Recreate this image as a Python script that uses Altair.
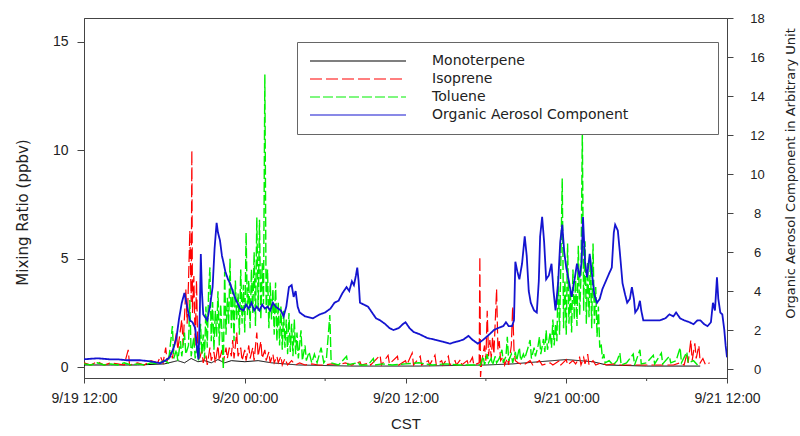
import altair as alt
import pandas as pd

# ---------------- data (hours after 9/19 12:00 CST) ----------------
x_tick_hours = [0, 12, 24, 36, 48]
x_tick_labels = ["9/19 12:00", "9/20 00:00", "9/20 12:00", "9/21 00:00", "9/21 12:00"]
minor_tick_hours = [6, 18, 30, 42]
left_ticks = [0, 5, 10, 15]
right_ticks = [0, 2, 4, 6, 8, 10, 12, 14, 16, 18]

series_names = ["Monoterpene", "Isoprene", "Toluene", "Organic Aerosol Component"]
series_colors = ["#000000", "#ff0000", "#00f000", "#1414d0"]
series_dashes = [[1, 0], [12, 4], [10, 3], [1, 0]]

mono_hours = [0, 2, 4, 6, 7, 7.5, 8, 8.5, 9, 9.5, 10, 10.5, 11, 12, 13, 14, 15, 16, 20, 25,
              30, 32, 33, 34, 35, 36, 37, 38, 39, 42, 46]
mono_values = [0.1, 0.1, 0.1, 0.15, 0.3, 0.2, 0.4, 0.25, 0.3, 0.2, 0.35, 0.2, 0.3, 0.25, 0.3, 0.2, 0.15, 0.1, 0.05, 0.05,
               0.1, 0.15, 0.2, 0.25, 0.3, 0.35, 0.3, 0.25, 0.1, 0.05, 0.05]

iso_hours = [0, 0.5, 1, 1.5, 2, 2.5, 3.0, 3.3, 3.4, 4, 4.5, 5.0, 5.5, 5.7, 5.9, 6.1, 6.2, 6.5, 6.6, 6.9,
             7.0, 7.3, 7.4, 7.6, 7.7, 7.8, 7.9, 8.0, 8.05, 8.1, 8.2, 8.3, 8.4, 8.5, 8.6,
             8.8, 8.9, 9.1, 9.2, 9.4, 9.5, 9.7, 9.8, 10.0, 10.1, 10.3, 10.4, 10.6, 10.7, 10.85,
             11.0, 11.1, 11.2, 11.4, 11.5, 11.7, 11.8, 12.0, 12.1, 12.3, 12.4, 12.6, 12.7, 12.9, 13.0,
             13.2, 13.3, 13.5, 13.6, 13.8, 13.9, 14.1, 14.2, 14.4, 14.5, 14.7, 14.8, 15.0, 15.2, 15.5,
             15.8, 16.1, 16.5, 17, 17.5, 18, 18.5, 19, 19.5,
             20.0, 20.6, 20.7, 21.3, 21.4, 22.1, 22.2, 22.7, 22.8, 23.4, 23.5, 24.0, 24.1, 24.5, 24.6,
             25.1, 25.2, 25.7, 25.8, 26.2, 26.3, 26.7, 26.8, 27.2, 27.3, 27.7, 27.8, 28.1, 28.2, 28.6,
             28.7, 29.0, 29.1, 29.5, 29.55, 29.6, 29.7,
             29.9, 30.0, 30.1, 30.2, 30.3, 30.4, 30.5, 30.6, 30.8, 30.9, 31.0, 31.1, 31.3, 31.4, 31.6,
             31.7, 31.9, 32.0, 32.1, 32.2, 32.4,
             32.8, 33.3, 33.5, 34.0, 34.2, 34.8, 35.0, 35.5, 35.6, 36.0, 36.1, 36.5, 36.7, 37.0, 37.1,
             37.3, 37.4, 37.6, 37.7, 38.0, 38.2, 38.6, 39, 39.5, 40, 41, 42, 43, 44, 44.5, 44.8,
             45.0, 45.1, 45.3, 45.4, 45.6, 45.7, 45.9, 46.0, 46.2, 46.4, 46.7]
iso_values = [0.2, 0.1, 0.25, 0.1, 0.2, 0.15, 0.1, 0.8, 0.1, 0.2, 0.1, 0.3, 0.2, 0.5, 0.2, 0.9, 0.3, 0.7, 0.4, 1.6,
              0.8, 2.2, 1.0, 3.6, 2.0, 3.9, 6.3, 3.0, 10.0, 2.5, 4.2, 1.0, 4.0, 0.6, 0.3,
              0.8, 0.2, 0.6, 0.1, 0.9, 0.3, 0.7, 0.2, 1.0, 0.3, 0.8, 0.2, 0.9, 0.4, 0.9,
              0.5, 1.25, 0.4, 1.6, 0.5, 0.9, 0.3, 0.8, 0.3, 1.0, 0.4, 0.9, 0.3, 1.6, 0.5,
              1.2, 0.4, 0.8, 0.3, 0.7, 0.2, 0.6, 0.2, 0.5, 0.2, 0.5, 0.1, 0.4, 0.1, 0.3,
              0.1, 0.2, 0.1, 0.15, 0.1, 0.1, 0.15, 0.1, 0.2,
              0.1, 0.25, 0.1, 0.2, 0.1, 0.55, 0.1, 0.55, 0.15, 0.5, 0.1, 0.3, 0.1, 0.65, 0.1,
              0.5, 0.1, 0.3, 0.1, 0.55, 0.1, 0.3, 0.1, 0.5, 0.1, 0.3, 0.1, 0.35, 0.1, 0.3,
              0.1, 0.45, 0.1, 0.2, 5.1, -0.45, 0.3,
              1.0, 0.3, 2.6, 0.5, 1.25, 0.4, 1.4, 0.6, 3.6, 0.8, 1.2, 0.3, 0.5, 0.1, 0.4,
              0.1, 1.0, 2.8, 0.8, 0.3, 0.2,
              0.1, 0.3, 0.1, 0.3, 0.1, 0.2, 0.1, 0.3, 0.1, 0.35, 0.1, 0.3, 0.15, 0.45, 0.1,
              0.45, 0.15, 0.6, 0.1, 0.3, 0.1, 0.2, 0.1, 0.15, 0.1, 0.1, 0.1, 0.1, 0.1, 0.2, 0.1,
              0.6, 0.2, 1.25, 0.3, 1.1, 0.4, 1.0, 0.2, 0.4, 0.1, 0.2]

tol_hours = [0, 0.5, 1, 1.5, 2, 2.5, 3, 3.5, 4, 4.5, 5, 5.5, 6, 6.3,
             6.6, 6.7, 6.9, 7.0, 7.2, 7.3, 7.5, 7.6, 7.8, 7.9, 8.0, 8.2, 8.3, 8.45, 8.55,
             8.6, 8.7, 8.8, 8.9, 9.0, 9.1, 9.2, 9.3, 9.4, 9.5, 9.6, 9.7, 9.8, 9.9,
             10.0, 10.1, 10.2, 10.3, 10.4, 10.5, 10.6, 10.7, 10.8, 10.9,
             11.0, 11.1, 11.2, 11.3, 11.4, 11.5, 11.6, 11.7, 11.8, 11.9,
             12.0, 12.1, 12.2, 12.3, 12.4, 12.5, 12.6, 12.7, 12.8, 12.9,
             13.0, 13.1, 13.2, 13.3, 13.4, 13.5, 13.6, 13.7, 13.8, 13.9,
             14.0, 14.1, 14.2, 14.3, 14.4, 14.5, 14.6, 14.7, 14.8, 14.9,
             15.0, 15.1, 15.2, 15.3, 15.4, 15.5, 15.6, 15.7, 15.8, 15.9,
             16.0, 16.2, 16.3, 16.5, 16.6, 16.8, 17.0, 17.2, 17.4, 17.7, 17.9, 18.1, 18.35, 18.45,
             19.0, 19.6, 19.7, 20.0, 20.5, 20.6, 21.2, 21.6, 21.7, 22.3, 23.0, 24.0, 25.0, 26.0,
             27.0, 28.0, 29.0, 29.5,
             29.6, 29.8, 29.9, 30.1, 30.2, 30.4, 30.5, 30.7, 30.8, 31.0, 31.2, 31.3, 31.5, 31.6,
             31.7, 31.9, 32.0, 32.2, 32.3, 32.5, 32.6, 32.8, 32.9, 33.1, 33.3, 33.4, 33.6, 33.7,
             33.9, 34.0, 34.1, 34.3, 34.4, 34.5, 34.6, 34.8, 34.9, 35.0, 35.1, 35.2, 35.3, 35.4,
             35.5, 35.6, 35.7, 35.8, 35.9, 36.0, 36.1, 36.2, 36.3, 36.4, 36.5, 36.6, 36.7, 36.8,
             36.9, 37.0, 37.1, 37.2, 37.3, 37.4, 37.5, 37.6, 37.7, 37.8, 37.9, 38.0, 38.1, 38.2,
             38.3, 38.4, 38.5, 38.6, 38.7, 38.8, 38.9, 39.2, 39.5, 39.8, 40.0, 40.1, 40.5, 41.0,
             41.1, 41.5, 41.6, 42.0, 42.5, 42.6, 43.1, 43.2, 43.7, 43.8, 44.2, 44.5, 44.6, 45.0,
             45.1, 45.5, 45.8]
tol_values = [0.15, 0.1, 0.2, 0.1, 0.15, 0.1, 0.2, 0.1, 0.15, 0.1, 0.2, 0.15, 0.3, 0.2,
              1.9, 0.4, 0.8, 0.3, 1.2, 0.5, 1.6, 0.6, 1.0, 3.1, 0.5, 1.4, 0.4, 1.0, 0.3,
              0.5, 2.0, 0.6, 1.5, 0.4, 2.8, 0.9, 3.5, 4.6, 1.2, 3.0, 0.8, 2.6, 1.4,
              3.5, 1.0, 2.9, 1.6, -0.1, 4.4, 1.5, 3.2, 2.0, 5.0,
              1.8, 3.6, 1.2, 4.0, 2.2, 3.4, 1.5, 4.5, 2.0, 3.8,
              1.6, 6.2, 2.4, 4.0, 1.8, 4.5, 2.5, 5.3, 1.9, 6.9,
              2.6, 6.8, 2.2, 4.8, 2.9, 13.5, 2.5, 4.5, 1.8, 3.9,
              2.2, 3.6, 1.5, 3.9, 1.2, 3.0, 1.0, 2.8, 0.8, 2.6,
              0.9, 2.2, 0.6, 2.5, 0.7, 2.0, 0.5, 2.2, 0.6, 1.6,
              0.4, 1.7, 0.3, 1.0, 0.3, 0.7, 0.2, 0.6, 0.2, 0.9, 0.2, 0.4, 2.4, 0.2,
              0.1, 0.5, 0.1, 0.15, 0.2, 0.1, 0.1, 0.4, 0.1, 0.15, 0.1, 0.15, 0.2, 0.1,
              0.15, 0.1, 0.1, 0.1,
              0.1, 0.5, 0.1, 0.6, 0.2, 0.4, 0.1, 0.5, 0.2, 0.4, 0.8, 0.2, 0.5, 1.4,
              0.3, 0.6, 0.2, 0.7, 0.3, 0.9, 0.3, 0.6, 0.4, 0.8, 1.25, 0.4, 0.9, 0.5,
              1.0, 1.4, 0.6, 1.3, 0.7, 1.7, 0.8, 1.6, 0.9, 2.2, 1.0, 2.0, 1.2, 4.2,
              1.5, 5.0, 8.7, 1.8, 4.0, 1.5, 5.7, 2.0, 3.6, 1.6, 4.5, 2.2, 4.0, 1.9,
              5.6, 2.4, 4.2, 10.9, 2.6, 5.8, 2.0, 4.8, 2.3, 5.1, 1.8, 5.7, 2.0, 3.7,
              1.4, 2.8, 0.9, 1.1, 0.4, 0.6, 0.2, 0.3, 0.1, 0.3, 0.65, 0.1, 0.2, 0.6,
              0.1, 0.8, 0.15, 0.2, 0.55, 0.15, 0.65, 0.15, 0.5, 0.2, 0.3, 0.9, 0.2, 0.7,
              0.2, 0.3, 0.1]

oa_hours = [0.0, 1.0, 1.9, 2.5, 3.2, 4.2, 4.9, 5.3, 5.7, 6.1, 6.4, 6.7, 6.9, 7.1, 7.3, 7.5, 7.7, 7.9,
            8.1, 8.3, 8.45, 8.55, 8.65, 8.72, 8.8, 8.9, 9.1, 9.2, 9.4, 9.6, 9.75, 9.9, 10.0, 10.15,
            10.3, 10.4, 10.55, 10.75, 10.9, 11.1, 11.3, 11.45, 11.65, 11.9, 12.1, 12.3, 12.5, 12.7,
            12.9, 13.1, 13.3, 13.5, 13.7, 13.9, 14.1, 14.3, 14.5, 14.7, 14.9, 15.1, 15.3, 15.5,
            15.65, 15.8, 15.95, 16.1, 16.5, 17.1, 17.6, 18.0, 18.4, 18.7, 19.0, 19.3, 19.6, 19.8,
            20.0, 20.15, 20.3, 20.4, 20.5, 20.6, 20.9, 21.2, 21.5, 21.8, 22.1, 22.5, 22.8, 23.1,
            23.5, 23.8, 24.0, 24.3, 24.6, 25.0, 25.6, 26.2, 26.8, 27.3, 27.8, 28.3, 28.7, 29.0,
            29.4, 29.8, 30.3, 30.6, 30.9, 31.3, 31.5, 31.7, 31.95, 32.1, 32.2, 32.35, 32.5, 32.7,
            32.9, 33.05, 33.2, 33.35, 33.6, 33.8, 33.95, 34.05, 34.2, 34.35, 34.5, 34.7, 34.9,
            35.05, 35.2, 35.4, 35.55, 35.7, 35.85, 36.0, 36.2, 36.4, 36.6, 36.8, 37.0, 37.15,
            37.25, 37.4, 37.55, 37.75, 37.9, 38.1, 38.3, 38.5, 38.7, 38.95, 39.2, 39.4, 39.55,
            39.65, 39.85, 40.0, 40.2, 40.4, 40.55, 40.75, 40.9, 41.05, 41.15, 41.35, 41.5, 41.6,
            41.75, 42.2, 42.7, 43.0, 43.4, 43.7, 44.0, 44.2, 44.5, 44.8, 45.2, 45.5, 45.8, 46.0,
            46.3, 46.55, 46.8, 46.95, 47.1, 47.25, 47.35, 47.5, 47.65, 47.8, 47.9, 48.0]
oa_values = [0.50, 0.55, 0.50, 0.50, 0.45, 0.45, 0.40, 0.35, 0.30, 0.45, 0.60, 1.10, 1.60, 2.60, 3.40, 3.90, 3.20, 2.50,
             2.40, 2.10, 1.00, 0.50, 3.00, 5.90, 4.00, 2.80, 2.60, 2.50, 3.20, 4.20, 6.20, 7.50, 7.00, 6.60,
             5.80, 5.50, 5.00, 4.60, 4.40, 4.00, 3.60, 3.40, 3.10, 3.00, 3.30, 3.10, 3.40, 3.00,
             3.20, 3.00, 3.30, 3.10, 3.20, 3.00, 3.40, 3.20, 3.10, 3.00, 2.70, 3.20, 4.20, 4.30,
             3.70, 4.00, 3.20, 2.90, 2.70, 2.60, 2.80, 2.90, 3.10, 3.40, 3.50, 3.90, 4.20, 4.00,
             4.50, 4.30, 4.80, 5.20, 4.50, 3.40, 3.30, 3.20, 2.90, 2.60, 2.50, 2.30, 2.10, 2.00,
             2.10, 2.30, 2.40, 2.10, 1.90, 1.80, 1.60, 1.50, 1.40, 1.30, 1.40, 1.50, 1.70, 1.50,
             1.30, 1.50, 1.80, 2.00, 2.10, 2.20, 2.40, 2.20, 2.20, 2.50, 5.50, 5.00, 4.60, 5.40,
             6.80, 5.80, 4.00, 3.40, 3.00, 2.90, 4.50, 6.80, 7.80, 6.50, 4.60, 4.80, 5.40,
             4.00, 3.00, 4.50, 6.50, 7.40, 6.00, 5.20, 4.50, 3.70, 4.50, 5.40, 4.70, 5.50,
             7.80, 5.50, 4.70, 5.90, 5.00, 3.80, 3.40, 3.60, 4.10, 4.50, 4.90, 5.20, 7.00,
             7.40, 7.10, 6.00, 4.40, 3.80, 3.40, 3.60, 4.20, 3.60, 2.90, 3.10, 3.50, 3.00,
             2.50, 2.50, 2.50, 2.50, 2.60, 2.80, 2.70, 2.90, 2.60, 2.50, 2.40, 2.30, 2.50, 2.50,
             2.30, 2.20, 2.40, 3.40, 3.00, 4.70, 3.60, 2.90, 2.80, 2.00, 1.20, 0.60]

# ---------------- chart ----------------
W, H = 643, 360
FONT = "Liberation Sans"
WIDE_FONT = "DejaVu Sans"
AXIS_COLOR = "#444444"
TEXT_COLOR = "#222222"


def frame(name, hours, values):
    return pd.DataFrame({"hour": hours, "value": values, "series": name})


label_js = "[" + ",".join("'" + s + "'" for s in x_tick_labels) + "]"

x_enc = alt.X(
    "hour:Q",
    scale=alt.Scale(domain=[0, 48], nice=False, zero=False),
    axis=alt.Axis(
        values=x_tick_hours,
        labelExpr=label_js + "[round(datum.value / 12)]",
        title="CST",
        tickSize=5,
        labelPadding=8,
        labelFontSize=14,
        labelFlush=False,
        labelOverlap=False,
        titleFontSize=15,
        titlePadding=11,
    ),
)

y_left = alt.Y(
    "value:Q",
    scale=alt.Scale(domain=[-0.5, 16.1], nice=False, zero=False),
    axis=alt.Axis(
        values=left_ticks,
        title="Mixing Ratio (ppbv)",
        tickSize=7,
        labelPadding=9,
        labelFontSize=14,
        titleFont=WIDE_FONT,
        titleFontSize=15,
        titleX=-62,
        titleY=194,
        titleAngle=270,
        titleAlign="center",
        titleBaseline="middle",
    ),
)

y_right = alt.Y(
    "value:Q",
    scale=alt.Scale(domain=[-0.46, 18], nice=False, zero=False),
    axis=alt.Axis(
        orient="right",
        values=right_ticks,
        title="Organic Aerosol Component in Arbitrary Unit",
        tickSize=6,
        labelPadding=24,
        labelAlign="center",
        labelFontSize=13,
        titleFont=WIDE_FONT,
        titleFontSize=13,
        titleX=63,
        titleY=155,
        titleAngle=270,
        titleAlign="center",
        titleBaseline="middle",
    ),
)

pad_tail = "\u00a0" * 15 + "\u2800"

legend = alt.Legend(
    title=None,
    orient="none",
    legendX=213,
    legendY=24,
    padding=12,
    strokeColor="#666666",
    fillColor="white",
    symbolType="M-1,0H15",
    symbolSize=144,
    symbolStrokeWidth=1.2,
    labelFont=WIDE_FONT,
    labelFontSize=14,
    labelColor=TEXT_COLOR,
    labelOffset=109,
    rowPadding=4,
    labelLimit=600,
    labelExpr="datum.label == 'Organic Aerosol Component' ? datum.label + '" + pad_tail + "' : datum.label",
)

color_enc = alt.Color(
    "series:N",
    scale=alt.Scale(domain=series_names, range=series_colors),
    legend=legend,
)
dash_enc = alt.StrokeDash(
    "series:N",
    scale=alt.Scale(domain=series_names, range=series_dashes),
    legend=legend,
)


def series_layer(name, hours, values, y_enc, width):
    return (
        alt.Chart(frame(name, hours, values))
        .mark_line(strokeWidth=width, clip=True, interpolate="linear")
        .encode(x=x_enc, y=y_enc, color=color_enc, strokeDash=dash_enc)
    )


minor = (
    alt.Chart(pd.DataFrame({"hour": minor_tick_hours}))
    .mark_rule(color=AXIS_COLOR, strokeWidth=1)
    .encode(x=alt.X("hour:Q"), y=alt.value(H), y2=alt.value(H + 3))
)

left_group = alt.layer(
    minor,
    series_layer("Monoterpene", mono_hours, mono_values, y_left, 1),
    series_layer("Isoprene", iso_hours, iso_values, y_left, 1.2),
    series_layer("Toluene", tol_hours, tol_values, y_left, 1.4),
)
right_group = series_layer("Organic Aerosol Component", oa_hours, oa_values, y_right, 1.8)

chart = (
    alt.layer(left_group, right_group)
    .resolve_scale(y="independent")
    .properties(
        width=W,
        height=H,
        autosize=alt.AutoSizeParams(type="none"),
        padding={"left": 84, "top": 18, "right": 73, "bottom": 58},
        background="white",
    )
    .configure_view(stroke=AXIS_COLOR, strokeWidth=1)
    .configure_axis(
        grid=False,
        domainColor=AXIS_COLOR,
        tickColor=AXIS_COLOR,
        labelColor=TEXT_COLOR,
        titleColor=TEXT_COLOR,
        labelFont=FONT,
        titleFont=FONT,
        titleFontWeight="normal",
    )
)

chart.save("out.html", embed_options={"renderer": "svg", "actions": False})
